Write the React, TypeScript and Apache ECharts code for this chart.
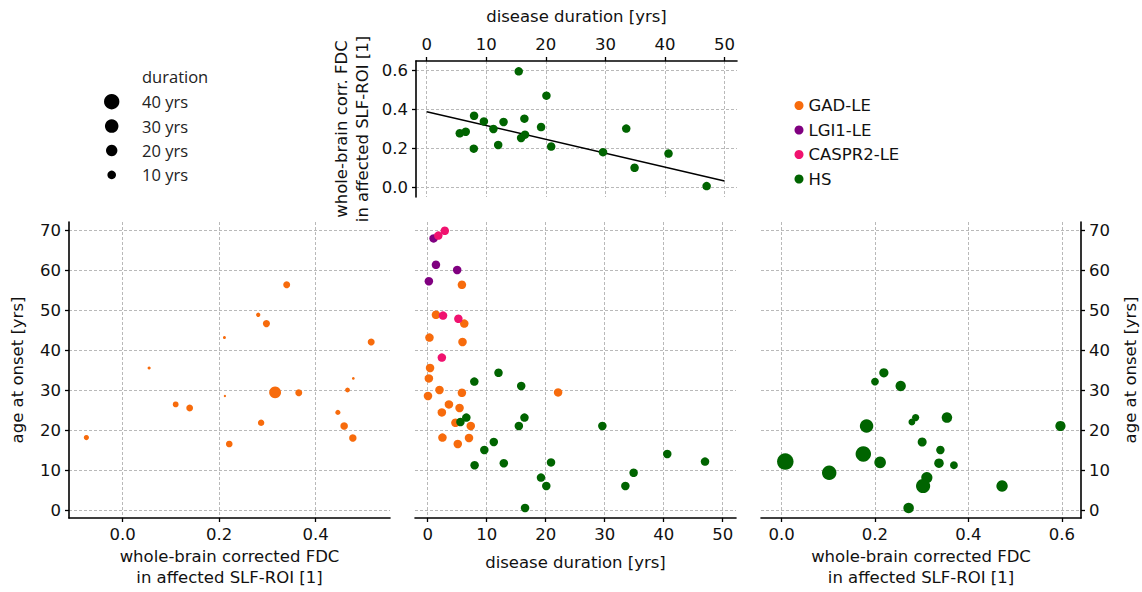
import React, { useEffect, useRef } from "react";
import * as echarts from "echarts";

// ---- tick values ----
const durationTicks = [0, 10, 20, 30, 40, 50];
const ageTicks = [0, 10, 20, 30, 40, 50, 60, 70];
const fdcTicksTop = [0, 0.2, 0.4, 0.6];
const fdcTicksLeft = [0, 0.2, 0.4];
const fdcTicksRight = [0, 0.2, 0.4, 0.6];

// ---- groups ----
const groupNames = ["GAD-LE", "LGI1-LE", "CASPR2-LE", "HS"];
const groupColors = ["#f76b0c", "#800080", "#f0126f", "#006400"];

// ---- GAD-LE patients ----
const gadFdc = [0.34, 0.281, 0.298, 0.211, 0.515, 0.055, 0.478, 0.466, 0.316, 0.365, 0.212, 0.11, 0.139, 0.446, 0.287, 0.459, -0.075, 0.477, 0.221];
const gadAge = [56.3, 48.8, 46.6, 43.1, 42.0, 35.5, 32.9, 30.0, 29.4, 29.3, 28.5, 26.4, 25.5, 24.4, 21.8, 21.0, 18.1, 18.0, 16.5];
const gadDuration = [5.8, 1.4, 6.2, 0.3, 5.9, 0.4, 0.2, 2.0, 22.1, 5.8, 0.05, 3.6, 5.4, 2.4, 4.7, 7.3, 2.5, 7.0, 5.1];

// ---- LGI1-LE patients ----
const lgi1Duration = [1.0, 1.4, 5.0, 0.2];
const lgi1Age = [67.9, 61.3, 60.0, 57.2];

// ---- CASPR2-LE patients ----
const caspr2Duration = [1.8, 2.9, 2.6, 5.2, 2.4];
const caspr2Age = [68.6, 69.8, 48.6, 47.8, 38.1];

// ---- HS patients ----
const hsDuration = [15.45, 20.1, 7.95, 9.6, 12.9, 16.4, 11.2, 19.2, 5.55, 6.55, 16.5, 15.85, 7.9, 12.0, 20.9, 29.6, 33.5, 40.6, 34.9, 47.0];
const hsFdc = [0.597, 0.472, 0.369, 0.34, 0.337, 0.354, 0.301, 0.311, 0.279, 0.287, 0.272, 0.255, 0.2, 0.219, 0.211, 0.182, 0.303, 0.175, 0.102, 0.008];
const hsAge = [21.0, 6.0, 11.2, 15.0, 11.7, 23.1, 17.0, 8.1, 22.0, 23.1, 0.5, 31.0, 32.1, 34.3, 11.9, 21.0, 6.0, 14.0, 9.3, 12.1];

// ---- regression line (top panel) ----
const fitLineDuration = [0, 50];
const fitLineFdc = [0.39, 0.034];

// ---- size legend ----
const sizeLegendYears = [40, 30, 20, 10];

const sizeOf = (d: number) => Math.sqrt(4.6 * d) + 1.8;
const uniformSize = 8.5;

const FONT = "DejaVu Sans";
const textColor = "#111";

function axisCommon(vals: number[], fmt?: (v: number) => string) {
  return {
    axisLine: { show: true, onZero: false, lineStyle: { color: "#000", width: 1.6 } },
    axisTick: { show: true, length: 4, inside: false, customValues: vals, lineStyle: { color: "#000", width: 1.3 } },
    axisLabel: {
      show: true,
      customValues: vals,
      margin: 8,
      color: textColor,
      fontSize: 16.5,
      fontFamily: FONT,
      formatter: fmt ? (v: number) => fmt(v) : (v: number) => String(v),
    },
    splitLine: { show: true, lineStyle: { color: "#b9b9b9", width: 1, type: [3, 2] } },
    nameTextStyle: { color: textColor, fontSize: 16.5, fontFamily: FONT, lineHeight: 21 },
  };
}

const f1 = (v: number) => v.toFixed(1);

export default function App() {
  const ref = useRef<HTMLDivElement>(null);
  useEffect(() => {
    if (!ref.current) return;
    const chart = echarts.init(ref.current, undefined, { renderer: "svg" });

    const legendStartY = 101.7;
    const legendStep = 24.4;
    const graphic: any[] = [
      {
        type: "text",
        x: 142,
        y: 76,
        style: { text: "duration", font: '16.5px "Open Sans"', fill: "#222", verticalAlign: "middle", align: "left" },
      },
    ];
    sizeLegendYears.forEach((yr, i) => {
      const cy = legendStartY + i * legendStep;
      graphic.push({ type: "circle", shape: { cx: 111.7, cy, r: sizeOf(yr) / 2 }, style: { fill: "#000" } });
      graphic.push({
        type: "text",
        x: 142,
        y: cy,
        style: { text: `${yr} yrs`, font: '16.5px "Open Sans"', fill: "#222", verticalAlign: "middle", align: "left" },
      });
    });

    const option: any = {
      animation: false,
      backgroundColor: "#fff",
      grid: [
        { left: 416, top: 61, width: 321, height: 136 },
        { left: 69, top: 222, width: 321, height: 296 },
        { left: 415, top: 222, width: 321, height: 296 },
        { left: 761, top: 222, width: 322, height: 296 },
      ],
      xAxis: [
        {
          gridIndex: 0, type: "value", position: "top", min: -1.8, max: 52.1,
          name: "disease duration [yrs]", nameLocation: "middle", nameGap: 34,
          ...axisCommon(durationTicks),
        },
        {
          gridIndex: 1, type: "value", min: -0.111, max: 0.554,
          name: "whole-brain corrected FDC\nin affected SLF-ROI [1]", nameLocation: "middle", nameGap: 28,
          ...axisCommon(fdcTicksLeft, f1),
        },
        {
          gridIndex: 2, type: "value", min: -2.15, max: 52.25,
          name: "disease duration [yrs]", nameLocation: "middle", nameGap: 34,
          ...axisCommon(durationTicks),
        },
        {
          gridIndex: 3, type: "value", min: -0.044, max: 0.641,
          name: "whole-brain corrected FDC\nin affected SLF-ROI [1]", nameLocation: "middle", nameGap: 28,
          ...axisCommon(fdcTicksRight, f1),
        },
      ],
      yAxis: [
        {
          gridIndex: 0, type: "value", min: -0.048, max: 0.65,
          name: "whole-brain corr. FDC\nin affected SLF-ROI [1]", nameLocation: "middle", nameGap: 43,
          ...axisCommon(fdcTicksTop, f1),
        },
        {
          gridIndex: 1, type: "value", min: -2, max: 72,
          name: "age at onset [yrs]", nameLocation: "middle", nameGap: 41,
          ...axisCommon(ageTicks),
        },
        (() => {
          const c = axisCommon(ageTicks);
          return {
            gridIndex: 2, type: "value", min: -2, max: 72,
            ...c,
            axisLine: { show: false, onZero: false },
            axisTick: { show: false, customValues: ageTicks },
            axisLabel: { show: false, customValues: ageTicks },
          };
        })(),
        {
          gridIndex: 3, type: "value", position: "right", min: -2, max: 72,
          name: "age at onset [yrs]", nameLocation: "middle", nameGap: 39,
          ...axisCommon(ageTicks),
        },
      ],
      legend: {
        data: groupNames.map((n) => ({ name: n, icon: "circle" })),
        orient: "vertical",
        left: 789.5,
        top: 92,
        itemWidth: 9,
        itemHeight: 9,
        itemGap: 7.5,
        itemTextGap: 25.5,
        selectedMode: false,
        textStyle: { color: textColor, fontSize: 16.5, fontFamily: FONT, lineHeight: 17 },
      },
      graphic,
      series: [
        {
          type: "line",
          xAxisIndex: 0, yAxisIndex: 0,
          data: fitLineDuration.map((d, i) => [d, fitLineFdc[i]]),
          showSymbol: false, symbol: "none",
          lineStyle: { color: "#000", width: 1.5 },
          silent: true,
          z: 2,
        },
        {
          type: "scatter", name: "HS",
          xAxisIndex: 0, yAxisIndex: 0,
          data: hsDuration.map((d, i) => [d, hsFdc[i]]),
          symbolSize: uniformSize,
          itemStyle: { color: groupColors[3], opacity: 1 },
          z: 3,
        },
        {
          type: "scatter", name: "GAD-LE",
          xAxisIndex: 1, yAxisIndex: 1,
          data: gadFdc.map((f, i) => [f, gadAge[i], gadDuration[i]]),
          symbolSize: (v: number[]) => sizeOf(v[2]),
          itemStyle: { color: groupColors[0], opacity: 1 },
        },
        {
          type: "scatter", name: "GAD-LE",
          xAxisIndex: 2, yAxisIndex: 2,
          data: gadDuration.map((d, i) => [d, gadAge[i]]),
          symbolSize: uniformSize,
          itemStyle: { color: groupColors[0], opacity: 1 },
          z: 3,
        },
        {
          type: "scatter", name: "LGI1-LE",
          xAxisIndex: 2, yAxisIndex: 2,
          data: lgi1Duration.map((d, i) => [d, lgi1Age[i]]),
          symbolSize: uniformSize,
          itemStyle: { color: groupColors[1], opacity: 1 },
          z: 4,
        },
        {
          type: "scatter", name: "CASPR2-LE",
          xAxisIndex: 2, yAxisIndex: 2,
          data: caspr2Duration.map((d, i) => [d, caspr2Age[i]]),
          symbolSize: uniformSize,
          itemStyle: { color: groupColors[2], opacity: 1 },
          z: 5,
        },
        {
          type: "scatter", name: "HS",
          xAxisIndex: 2, yAxisIndex: 2,
          data: hsDuration.map((d, i) => [d, hsAge[i]]),
          symbolSize: uniformSize,
          itemStyle: { color: groupColors[3], opacity: 1 },
          z: 6,
        },
        {
          type: "scatter", name: "HS",
          xAxisIndex: 3, yAxisIndex: 3,
          data: hsFdc.map((f, i) => [f, hsAge[i], hsDuration[i]]),
          symbolSize: (v: number[]) => sizeOf(v[2]),
          itemStyle: { color: groupColors[3], opacity: 1 },
        },
      ],
    };
    chart.setOption(option);
    return () => chart.dispose();
  }, []);
  return (
    <div
      ref={ref}
      style={{ position: "fixed", left: 0, top: 0, width: 1142, height: 592, background: "#fff" }}
    />
  );
}
